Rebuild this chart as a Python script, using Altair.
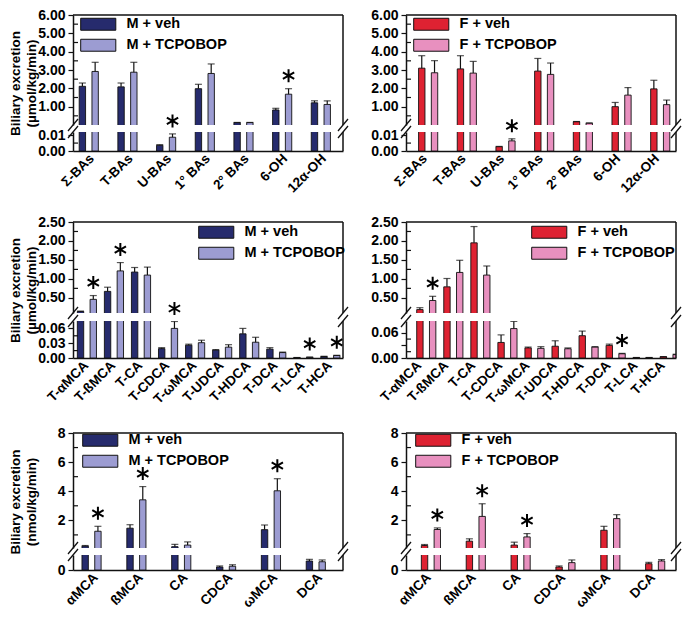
import altair as alt
import pandas as pd

FONT = "Liberation Sans"
INK = "#111111"

# ---------------- data ----------------
# Row 1: totals (µmol/kg/min)
cats_a = ["Σ-BAs", "T-BAs", "U-BAs", "1° BAs", "2° BAs", "6-OH", "12α-OH"]
m_a_veh = [2.11, 2.08, 0.0036, 1.98, 0.13, 0.82, 1.21]
m_a_veh_err = [0.18, 0.21, 0.0004, 0.24, 0.01, 0.09, 0.11]
m_a_tc = [2.92, 2.88, 0.0087, 2.81, 0.13, 1.68, 1.12]
m_a_tc_err = [0.50, 0.54, 0.0021, 0.52, 0.01, 0.30, 0.20]
m_a_sig = ["U-BAs", "6-OH"]
f_a_veh = [3.10, 3.06, 0.0027, 2.94, 0.18, 1.00, 1.97]
f_a_veh_err = [0.68, 0.72, 0.0002, 0.69, 0.01, 0.23, 0.47]
f_a_tc = [2.85, 2.83, 0.0064, 2.76, 0.10, 1.63, 1.11]
f_a_tc_err = [0.66, 0.64, 0.0013, 0.62, 0.01, 0.41, 0.25]
f_a_sig = ["U-BAs"]

# Row 2: taurine conjugates (µmol/kg/min)
cats_b = ["T-αMCA", "T-ßMCA", "T-CA", "T-CDCA", "T-ωMCA", "T-UDCA",
          "T-HDCA", "T-DCA", "T-LCA", "T-HCA"]
m_b_veh = [0.14, 0.67, 1.18, 0.019, 0.026, 0.016, 0.049, 0.018, 0.0008, 0.003]
m_b_veh_err = [0.01, 0.11, 0.12, 0.002, 0.002, 0.001, 0.011, 0.003, 0.0002, 0.0005]
m_b_tc = [0.46, 1.21, 1.10, 0.060, 0.031, 0.022, 0.032, 0.011, 0.0015, 0.005]
m_b_tc_err = [0.10, 0.22, 0.21, 0.014, 0.005, 0.005, 0.010, 0.001, 0.0003, 0.0005]
m_b_sig = ["T-αMCA", "T-ßMCA", "T-CDCA", "T-LCA", "T-HCA"]
f_b_veh = [0.19, 0.79, 1.95, 0.037, 0.024, 0.028, 0.053, 0.030, 0.001, 0.003]
f_b_veh_err = [0.05, 0.22, 0.43, 0.018, 0.002, 0.013, 0.011, 0.003, 0.0002, 0.0005]
f_b_tc = [0.43, 1.17, 1.10, 0.070, 0.023, 0.022, 0.026, 0.010, 0.001, 0.008]
f_b_tc_err = [0.11, 0.32, 0.24, 0.017, 0.004, 0.002, 0.001, 0.001, 0.0002, 0.001]
f_b_sig = ["T-αMCA", "T-DCA"]

# Row 3: unconjugated (nmol/kg/min)
cats_c = ["αMCA", "ßMCA", "CA", "CDCA", "ωMCA", "DCA"]
m_c_veh = [0.23, 1.46, 0.19, 0.020, 1.36, 0.060]
m_c_veh_err = [0.04, 0.24, 0.16, 0.007, 0.32, 0.011]
m_c_tc = [1.25, 3.41, 0.30, 0.025, 4.03, 0.055]
m_c_tc_err = [0.34, 0.91, 0.22, 0.010, 0.83, 0.012]
m_c_sig = ["αMCA", "ßMCA", "ωMCA"]
f_c_veh = [0.27, 0.57, 0.30, 0.020, 1.32, 0.042]
f_c_veh_err = [0.07, 0.16, 0.20, 0.007, 0.27, 0.009]
f_c_tc = [1.37, 2.27, 0.86, 0.049, 2.12, 0.060]
f_c_tc_err = [0.11, 0.87, 0.23, 0.018, 0.27, 0.009]
f_c_sig = ["αMCA", "ßMCA", "CA"]

M_GROUPS = ["M + veh", "M + TCPOBOP"]
F_GROUPS = ["F + veh", "F + TCPOBOP"]
M_COLORS = ["#262b6d", "#9c9cd2"]
F_COLORS = ["#de2232", "#e890bf"]

TITLE_UMOL = ["Biliary excretion", "(µmol/kg/min)"]
TITLE_NMOL = ["Biliary excretion", "(nmol/kg/min)"]

# wide legend swatch: 35 x 12 px when drawn at symbolSize 169
RECT = "M-2.7,-0.92L2.7,-0.92L2.7,0.92L-2.7,0.92Z"
# six-armed significance asterisk
ASTER = "M0,-1L0,1M-0.87,-0.5L0.87,0.5M-0.87,0.5L0.87,-0.5"
ONE = pd.DataFrame({"z": [0]})


def build_df(cats, groups, veh, veh_err, tc, tc_err):
    recs = []
    for i, c in enumerate(cats):
        recs.append({"cat": c, "grp": groups[0], "val": veh[i], "top": veh[i] + veh_err[i]})
        recs.append({"cat": c, "grp": groups[1], "val": tc[i], "top": tc[i] + tc_err[i]})
    return pd.DataFrame(recs)


def slash(cx, cy):
    return alt.Chart(ONE).mark_rule(color=INK, strokeWidth=1.3).encode(
        x=alt.value(cx - 5), x2=alt.value(cx + 5),
        y=alt.value(cy + 6), y2=alt.value(cy - 6))


def segment(df, cats, groups, colors, sig, dom, H, W, major, minor, fmt,
            upper, lo_max, pad, legend=None, title=None, title_y=None):
    ysc = alt.Scale(domain=dom, nice=False, zero=False)
    if upper:
        xaxis = None
    else:
        xaxis = alt.Axis(labelAngle=-45, ticks=False, labelAlign="right",
                         labelBaseline="middle", labelPadding=5,
                         labelFontSize=13.5, labelFontWeight="bold",
                         labelFont=FONT, labelColor="black",
                         domainColor=INK, domainWidth=1.5, title=None)
    x = alt.X("cat:N", sort=cats, title=None,
              scale=alt.Scale(paddingInner=pad[0], paddingOuter=pad[1]), axis=xaxis)
    xo = alt.XOffset("grp:N", sort=groups,
                     scale=alt.Scale(paddingInner=0, paddingOuter=0))
    ax = dict(values=major, format=fmt, grid=False)
    if title is not None:
        ax.update(title=title, titleX=-58, titleY=title_y, titleAngle=-90,
                  titleBaseline="middle", titleAlign="center", titleFont=FONT,
                  titleFontSize=13.5, titleFontWeight="bold", titleLineHeight=16,
                  titleColor="black")
    else:
        ax.update(title=None)
    yaxis = alt.Axis(**ax)

    def Y(field):
        return alt.Y(field, scale=ysc, axis=yaxis)

    color = alt.Color("grp:N", sort=groups,
                      scale=alt.Scale(domain=groups, range=colors), legend=legend)
    base = alt.Chart(df)
    if upper:
        # values that stay below the break are pushed out of the upper segment
        hide = dom[0] - 1
        base = base.transform_calculate(
            val=f"datum.val > {lo_max} ? datum.val : {hide}",
            top=f"datum.top > {lo_max} ? datum.top : {hide}")
        floor = dom[0] - 2
    else:
        floor = 0
    err_base = base.transform_filter("datum.top > datum.val")
    layers = [
        base.mark_bar(clip=True, stroke=INK, strokeWidth=0.9).encode(
            x=x, xOffset=xo, y=Y("val:Q"), y2=alt.datum(floor), color=color),
        err_base.mark_rule(clip=True, color=INK, strokeWidth=1.2).encode(
            x=x, xOffset=xo, y=Y("val:Q"), y2="top:Q"),
        err_base.mark_tick(clip=True, color=INK, thickness=1.2, size=7).encode(
            x=x, xOffset=xo, y=Y("top:Q")),
    ]
    if minor:
        layers.append(alt.Chart(pd.DataFrame({"val": minor})).mark_rule(
            color=INK, strokeWidth=1.2).encode(
            y=Y("val:Q"), x=alt.value(0), x2=alt.value(5)))
    # significance asterisks
    s = df[(df["grp"] == groups[1]) & (df["cat"].isin(sig))]
    if upper:
        s = s[s["top"] > lo_max]
    else:
        s = s[s["top"] <= lo_max]
    if len(s):
        layers.append(alt.Chart(s).mark_point(
            shape=ASTER, size=169, filled=False, color="black", strokeWidth=2,
            opacity=1, yOffset=-13).encode(x=x, xOffset=xo, y=Y("top:Q")))
    # frame
    layers.append(alt.Chart(ONE).mark_rule(color=INK, strokeWidth=1.5).encode(
        x=alt.value(W), y=alt.value(0), y2=alt.value(H)))
    if upper:
        layers.append(alt.Chart(ONE).mark_rule(color=INK, strokeWidth=1.5).encode(
            x=alt.value(0), x2=alt.value(W), y=alt.value(0)))
        layers += [slash(0, H), slash(W, H)]
    else:
        layers += [slash(0, 0), slash(W, 0)]
    return alt.layer(*layers).properties(width=W, height=H)


def panel(cats, groups, colors, veh, veh_err, tc, tc_err, sig, W,
          up_dom, up_h, up_major, up_minor, lo_dom, lo_h, lo_major, lo_minor,
          gap, fmt, pad, leg_x, leg_y, title=None):
    df = build_df(cats, groups, veh, veh_err, tc, tc_err)
    legend = alt.Legend(title=None, orient="none", legendX=leg_x, legendY=leg_y,
                        symbolType=RECT, symbolSize=169,
                        symbolStrokeColor=INK, symbolStrokeWidth=1,
                        symbolOpacity=1, labelFont=FONT, labelFontSize=14.5,
                        labelFontWeight="bold", labelColor="black",
                        labelOffset=21, rowPadding=4, padding=0)
    up = segment(df, cats, groups, colors, sig, up_dom, up_h, W, up_major,
                 up_minor, fmt, True, lo_dom[1], pad, legend=legend,
                 title=title, title_y=(up_h + gap + lo_h) / 2)
    lo = segment(df, cats, groups, colors, sig, lo_dom, lo_h, W, lo_major,
                 lo_minor, fmt, False, lo_dom[1], pad)
    return alt.vconcat(up, lo, spacing=gap, bounds="flush").resolve_scale(
        color="independent").resolve_legend(color="independent")


WL, WR = 270, 270

row_a = alt.hconcat(
    panel(cats_a, M_GROUPS, M_COLORS, m_a_veh, m_a_veh_err, m_a_tc, m_a_tc_err,
          m_a_sig, WL, [0, 6], 110, [1, 2, 3, 4, 5, 6],
          [0.5, 1.5, 2.5, 3.5, 4.5, 5.5], [0, 0.012], 19, [0, 0.01], [0.005],
          7, ".2f", (0.34, 0.16), 18, 2, TITLE_UMOL),
    panel(cats_a, F_GROUPS, F_COLORS, f_a_veh, f_a_veh_err, f_a_tc, f_a_tc_err,
          f_a_sig, WR, [0, 6], 110, [1, 2, 3, 4, 5, 6],
          [0.5, 1.5, 2.5, 3.5, 4.5, 5.5], [0, 0.012], 19, [0, 0.01], [0.005],
          7, ".2f", (0.34, 0.16), 18, 2),
    spacing=21).resolve_scale(color="independent").resolve_legend(color="independent")

row_b = alt.hconcat(
    panel(cats_b, M_GROUPS, M_COLORS, m_b_veh, m_b_veh_err, m_b_tc, m_b_tc_err,
          m_b_sig, WL, [0.1, 2.5], 91, [0.5, 1.0, 1.5, 2.0, 2.5],
          [0.75, 1.25, 1.75, 2.25], [0, 0.075], 37, [0, 0.03, 0.06],
          [0.015, 0.045], 8, ".2f", (0.34, 0.16), WL - 134, 3, TITLE_UMOL),
    panel(cats_b, F_GROUPS, F_COLORS, f_b_veh, f_b_veh_err, f_b_tc, f_b_tc_err,
          f_b_sig, WR, [0.1, 2.5], 91, [0.5, 1.0, 1.5, 2.0, 2.5],
          [0.75, 1.25, 1.75, 2.25], [0, 0.088], 37, [0, 0.03, 0.06],
          [0.015, 0.045], 8, ".2f", (0.34, 0.16), WR - 134, 3),
    spacing=21).resolve_scale(color="independent").resolve_legend(color="independent")

row_c = alt.hconcat(
    panel(cats_c, M_GROUPS, M_COLORS, m_c_veh, m_c_veh_err, m_c_tc, m_c_tc_err,
          m_c_sig, WL, [0.1, 8], 115, [2, 4, 6, 8], [1, 3, 5, 7],
          [0, 0.1], 15, [0], [], 7, "d", (0.38, 0.2), 20, 0, TITLE_NMOL),
    panel(cats_c, F_GROUPS, F_COLORS, f_c_veh, f_c_veh_err, f_c_tc, f_c_tc_err,
          f_c_sig, WR, [0.1, 8], 115, [2, 4, 6, 8], [1, 3, 5, 7],
          [0, 0.1], 15, [0], [], 7, "d", (0.38, 0.2), 20, 0),
    spacing=41).resolve_scale(color="independent").resolve_legend(color="independent")

lower_rows = alt.vconcat(row_b, row_c, spacing=20).resolve_scale(
    color="independent").resolve_legend(color="independent")

chart = alt.vconcat(row_a, lower_rows, spacing=20).resolve_scale(
    color="independent").resolve_legend(color="independent").properties(
    padding=0).configure_view(stroke=None).configure_axis(
    labelFont=FONT, labelFontSize=14, labelFontWeight="bold", labelColor="black",
    tickColor=INK, tickWidth=1.2, tickSize=5, domainColor=INK, domainWidth=1.5,
    labelPadding=3, grid=False)

chart.save("out.html", embed_options={"renderer": "svg", "actions": False})
